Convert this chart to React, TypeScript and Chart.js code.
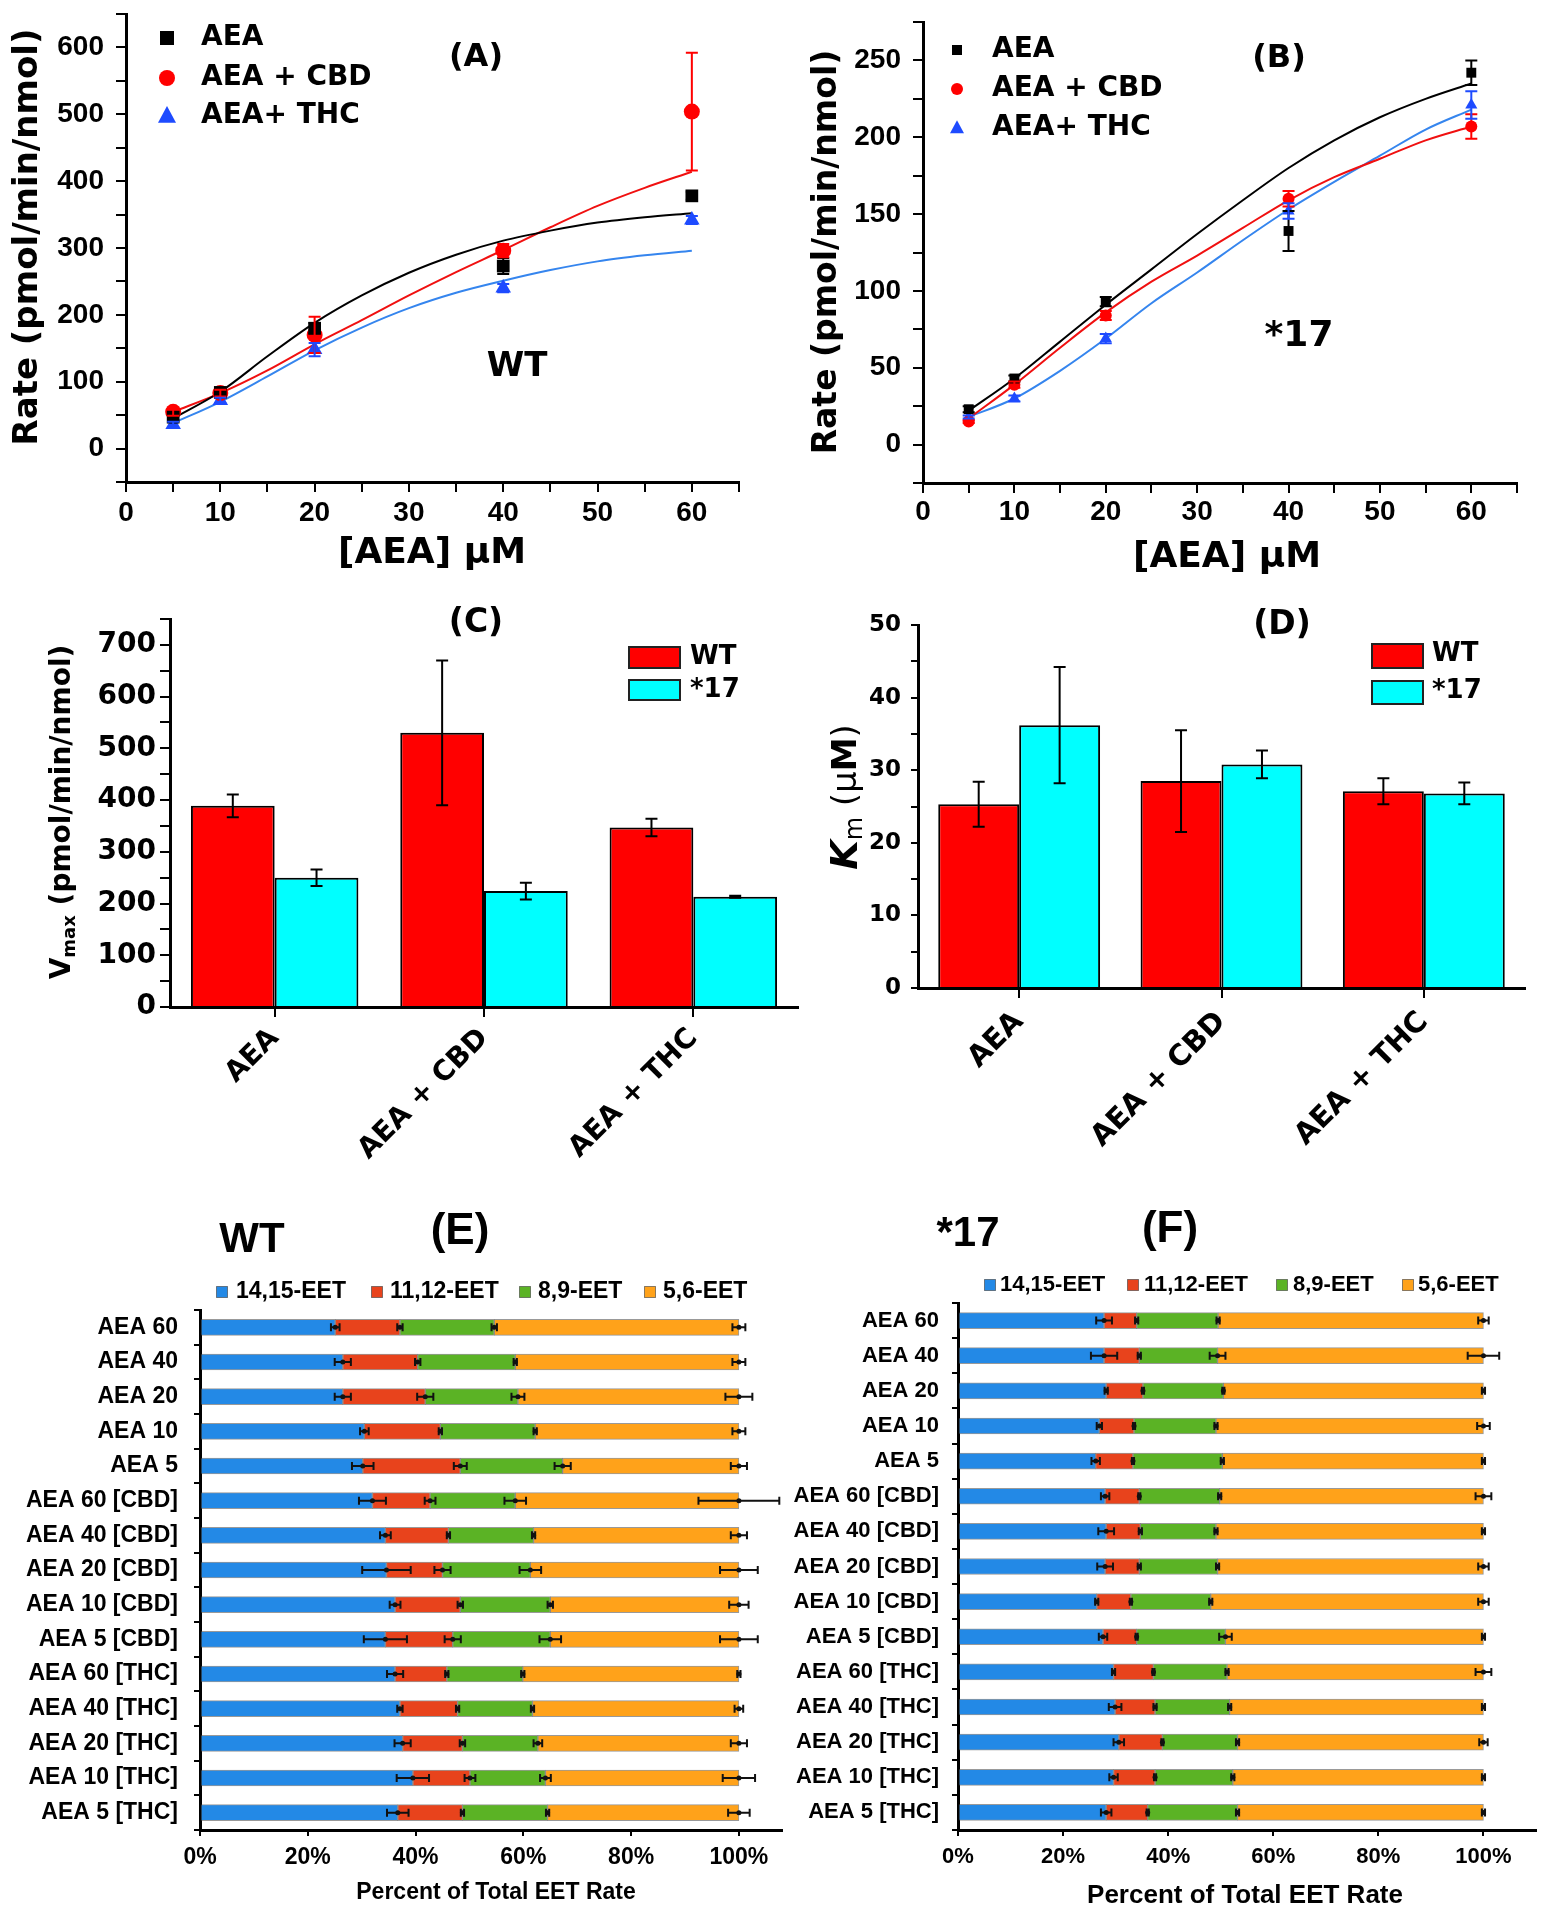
import React, { useEffect, useRef } from 'react';
import { Chart, registerables } from 'chart.js';
Chart.register(...registerables);

const NARROW = '"Liberation Sans", Arial, sans-serif';
const WIDE = '"DejaVu Sans", sans-serif';

// ---------- Panels A/B : rate vs [AEA] ----------
const concentrations = [5, 10, 20, 40, 60];
const fitConc = [5, 10, 15, 20, 25, 30, 35, 40, 45, 50, 55, 60];

// WT (A)
const wtAEA = [47, 84, 180, 273, 378];
const wtAEAErr = [5, 6, 8, 12, 6];
const wtCBD = [55, 83, 170, 296, 504];
const wtCBDErr = [6, 5, 27, 10, 88];
const wtTHC = [36, 72, 148, 240, 342];
const wtTHCErr = [4, 4, 10, 6, 6];
const wtFitAEA = [45, 85, 138, 188, 229, 263, 290, 311, 326, 338, 346, 352];
const wtFitCBD = [55, 83, 117, 156, 192, 229, 264, 297, 331, 363, 390, 414];
const wtFitTHC = [38, 70, 108, 147, 181, 210, 233, 251, 267, 280, 289, 296];

// *17 (B)
const s17AEA = [23, 43, 93, 139, 242];
const s17AEAErr = [2, 2, 3, 13, 8];
const s17CBD = [15, 39, 84, 160, 207];
const s17CBDErr = [1, 2, 3, 5, 8];
const s17THC = [18, 30, 69, 152, 221];
const s17THCErr = [1, 2, 3, 5, 9];
const s17FitAEA = [22, 43, 67, 91, 114, 137, 159, 180, 198, 213, 225, 235];
const s17FitCBD = [17, 39, 63, 86, 106, 123, 141, 159, 174, 186, 198, 207];
const s17FitTHC = [18, 30, 48, 69, 92, 112, 133, 153, 171, 188, 205, 218];

// ---------- Panels C/D : Vmax and Km ----------
const treatments = ['AEA', 'AEA + CBD', 'AEA + THC'];
const vmaxWT = [389, 530, 347];
const vmaxWTErr = [22, 140, 17];
const vmax17 = [250, 224, 213];
const vmax17Err = [16, 16, 2];
const kmWT = [25.3, 28.5, 27.1];
const kmWTErr = [3.1, 7.0, 1.8];
const km17 = [36.2, 30.8, 26.8];
const km17Err = [8.0, 1.9, 1.5];

// ---------- Panels E/F : EET distribution ----------
const eetRows = ['AEA 60', 'AEA 40', 'AEA 20', 'AEA 10', 'AEA 5', 'AEA 60 [CBD]', 'AEA 40 [CBD]', 'AEA 20 [CBD]', 'AEA 10 [CBD]', 'AEA 5 [CBD]', 'AEA 60 [THC]', 'AEA 40 [THC]', 'AEA 20 [THC]', 'AEA 10 [THC]', 'AEA 5 [THC]'];
const eetNames = ['14,15-EET', '11,12-EET', '8,9-EET', '5,6-EET'];
const eetColors = ['#2389E6', '#E8431C', '#5BB325', '#FFA21A'];

const wt1415 = [25.1, 26.5, 26.5, 30.5, 30.2, 32.0, 34.4, 34.6, 36.2, 34.4, 36.2, 37.1, 37.6, 39.5, 36.7];
const wt1112 = [12.0, 13.9, 15.3, 14.1, 18.1, 10.7, 11.7, 10.4, 12.1, 12.5, 9.6, 10.7, 11.1, 10.6, 12.0];
const wt89 = [17.5, 18.1, 17.2, 17.6, 19.0, 15.8, 15.8, 16.3, 16.7, 18.1, 14.1, 13.9, 14.0, 14.0, 15.8];
const wt56 = [45.4, 41.5, 41.0, 37.8, 32.7, 41.5, 38.1, 38.7, 35.0, 35.0, 40.1, 38.3, 37.3, 35.9, 35.5];
const wt1415Err = [0.8, 1.5, 1.5, 0.8, 2.0, 2.5, 1.0, 4.5, 1.0, 4.0, 1.5, 0.5, 1.5, 3.0, 2.0];
const wt1112Err = [0.5, 0.5, 1.5, 0.3, 1.2, 1.0, 0.3, 1.5, 0.5, 1.5, 0.3, 0.3, 0.5, 1.0, 0.3];
const wt89Err = [0.5, 0.3, 1.2, 0.3, 1.5, 2.0, 0.3, 2.0, 0.5, 2.0, 0.3, 0.3, 0.8, 1.0, 0.3];
const wt56Err = [1.2, 1.2, 2.5, 1.2, 1.5, 7.5, 1.5, 3.5, 1.8, 3.5, 0.3, 0.8, 1.5, 3.0, 2.0];

const s17_1415 = [27.8, 27.8, 28.2, 26.9, 26.2, 28.0, 28.2, 28.0, 26.4, 27.6, 29.6, 29.9, 30.6, 29.6, 28.2];
const s17_1112 = [6.2, 6.7, 7.0, 6.6, 7.1, 6.5, 6.5, 6.5, 6.5, 6.4, 7.6, 7.6, 8.3, 7.9, 7.9];
const s17_89 = [15.5, 14.9, 15.3, 15.6, 17.0, 15.3, 14.4, 14.9, 15.2, 16.9, 14.0, 14.2, 14.3, 14.8, 17.1];
const s17_56 = [50.5, 50.6, 49.5, 50.9, 49.7, 50.2, 50.9, 50.6, 51.9, 49.1, 48.8, 48.3, 46.8, 47.7, 46.8];
const s17_1415Err = [1.5, 2.5, 0.3, 0.5, 0.8, 0.8, 1.5, 1.5, 0.3, 0.8, 0.3, 1.2, 1.0, 0.8, 1.0];
const s17_1112Err = [0.3, 0.3, 0.2, 0.2, 0.2, 0.2, 0.3, 0.3, 0.2, 0.2, 0.2, 0.3, 0.2, 0.2, 0.2];
const s17_89Err = [0.3, 1.5, 0.2, 0.3, 0.3, 0.3, 0.3, 0.3, 0.3, 1.2, 0.3, 0.3, 0.3, 0.3, 0.3];
const s17_56Err = [1.0, 3.0, 0.3, 1.2, 0.3, 1.5, 0.3, 1.0, 1.0, 0.3, 1.5, 0.3, 0.8, 0.3, 0.3];

// ---------- helpers ----------
type Part = { t: string; font: string; dy?: number };
type Item =
  | { kind: 'text'; x: number; y: number; parts: Part[]; align?: 'left' | 'center' | 'right'; rot?: number; color?: string }
  | { kind: 'shape'; shape: 'rect' | 'circle' | 'triangle'; x: number; y: number; r: number; color: string }
  | { kind: 'box'; x: number; y: number; w: number; h: number; fill: string; stroke: string; lw: number };

const T = (x: number, y: number, t: string, font: string, align: 'left' | 'center' | 'right' = 'center', rot = 0): Item => ({ kind: 'text', x, y, parts: [{ t, font }], align, rot });

function overlay(id: string, items: Item[]) {
  return {
    id,
    afterDraw(chart: any) {
      const ctx: CanvasRenderingContext2D = chart.ctx;
      ctx.save();
      for (const it of items) {
        if (it.kind === 'text') {
          ctx.save();
          ctx.translate(it.x, it.y);
          ctx.rotate(it.rot || 0);
          ctx.fillStyle = it.color || '#000';
          ctx.textBaseline = 'middle';
          ctx.textAlign = 'left';
          let total = 0;
          for (const p of it.parts) { ctx.font = p.font; total += ctx.measureText(p.t).width; }
          let cx = it.align === 'left' ? 0 : it.align === 'right' ? -total : -total / 2;
          for (const p of it.parts) {
            ctx.font = p.font;
            ctx.fillText(p.t, cx, p.dy || 0);
            cx += ctx.measureText(p.t).width;
          }
          ctx.restore();
        } else if (it.kind === 'shape') {
          ctx.fillStyle = it.color;
          ctx.beginPath();
          if (it.shape === 'rect') ctx.rect(it.x - it.r, it.y - it.r, it.r * 2, it.r * 2);
          else if (it.shape === 'circle') ctx.arc(it.x, it.y, it.r, 0, Math.PI * 2);
          else { ctx.moveTo(it.x, it.y - it.r * 1.1); ctx.lineTo(it.x + it.r, it.y + it.r * 0.75); ctx.lineTo(it.x - it.r, it.y + it.r * 0.75); ctx.closePath(); }
          ctx.fill();
        } else {
          ctx.fillStyle = it.fill;
          ctx.fillRect(it.x, it.y, it.w, it.h);
          ctx.strokeStyle = it.stroke;
          ctx.lineWidth = it.lw;
          ctx.strokeRect(it.x, it.y, it.w, it.h);
        }
      }
      ctx.restore();
    },
  };
}

function pointErrors(id: string, sets: { ds: number; err: number[]; color: string }[], cap: number, lw: number) {
  return {
    id,
    afterDatasetsDraw(chart: any) {
      const ctx: CanvasRenderingContext2D = chart.ctx;
      const ys = chart.scales.y;
      ctx.save();
      for (const s of sets) {
        const meta = chart.getDatasetMeta(s.ds);
        const data = chart.data.datasets[s.ds].data as any[];
        ctx.strokeStyle = s.color;
        ctx.lineWidth = lw;
        meta.data.forEach((el: any, i: number) => {
          const v = typeof data[i] === 'number' ? data[i] : data[i].y;
          const e = s.err[i];
          const x = el.x;
          const y1 = ys.getPixelForValue(v + e);
          const y2 = ys.getPixelForValue(v - e);
          ctx.beginPath();
          ctx.moveTo(x, y1); ctx.lineTo(x, y2);
          ctx.moveTo(x - cap, y1); ctx.lineTo(x + cap, y1);
          ctx.moveTo(x - cap, y2); ctx.lineTo(x + cap, y2);
          ctx.stroke();
        });
      }
      ctx.restore();
    },
  };
}

function stackErrors(id: string, errs: number[][]) {
  return {
    id,
    afterDatasetsDraw(chart: any) {
      const ctx: CanvasRenderingContext2D = chart.ctx;
      const xs = chart.scales.x;
      ctx.save();
      ctx.strokeStyle = '#111';
      ctx.lineWidth = 2;
      const n = chart.data.labels.length;
      for (let i = 0; i < n; i++) {
        let cum = 0;
        for (let d = 0; d < errs.length; d++) {
          cum += chart.data.datasets[d].data[i] as number;
          const y = chart.getDatasetMeta(d).data[i].y;
          const e = errs[d][i];
          const x1 = xs.getPixelForValue(cum - e);
          const x2 = xs.getPixelForValue(cum + e);
          ctx.beginPath();
          ctx.moveTo(x1, y); ctx.lineTo(x2, y);
          ctx.moveTo(x1, y - 4); ctx.lineTo(x1, y + 4);
          ctx.moveTo(x2, y - 4); ctx.lineTo(x2, y + 4);
          ctx.stroke();
          ctx.beginPath();
          ctx.fillStyle = '#111';
          ctx.arc(xs.getPixelForValue(cum), y, 2.5, 0, Math.PI * 2);
          ctx.fill();
        }
      }
      ctx.restore();
    },
  };
}

const fixY = (w: number) => (s: any) => { s.width = w; s.paddingTop = 0; s.paddingBottom = 0; s.paddingLeft = 0; s.paddingRight = 0; };
const fixX = (h: number) => (s: any) => { s.height = h; s.paddingTop = 0; s.paddingBottom = 0; s.paddingLeft = 0; s.paddingRight = 0; };

const axisBase = (fontFamily: string, size: number, tickLen: number, pad: number) => ({
  ticks: { color: '#000', font: { family: fontFamily, size, weight: 'bold' as const }, padding: pad, autoSkip: false, maxRotation: 0, minRotation: 0 },
  grid: { drawOnChartArea: false, drawTicks: true, tickLength: tickLen, color: '#000', lineWidth: 2 },
  border: { display: true, color: '#000', width: 3 },
});

function ChartBox({ left, top, width, height, config }: { left: number; top: number; width: number; height: number; config: any }) {
  const ref = useRef<HTMLCanvasElement>(null);
  useEffect(() => {
    const c = new Chart(ref.current as HTMLCanvasElement, config);
    return () => c.destroy();
  }, []);
  return <canvas ref={ref} width={width} height={height} style={{ position: 'absolute', left, top, width, height }} />;
}

// ---------- A/B configs ----------
function kineticsConfig(opts: {
  pts: number[][]; errs: number[][]; fits: number[][]; ymin: number; ymax: number; ystep: number; ylab: number;
  yW: number; xH: number; padTop: number; padRight: number; radii: number[]; texts: Item[]; xpad: number;
}) {
  const markerColors = ['#000000', '#FF0000', '#1E4BFF'];
  const curveColors = ['#000000', '#F01010', '#3585EE'];
  const styles = ['rect', 'circle', 'triangle'];
  const names = ['AEA', 'AEA + CBD', 'AEA+ THC'];
  const datasets: any[] = [];
  opts.fits.forEach((f, k) => datasets.push({
    type: 'line', label: names[k] + ' fit', data: fitConc.map((x, i) => ({ x, y: f[i] })),
    borderColor: curveColors[k], borderWidth: 2, pointRadius: 0, tension: 0.4, cubicInterpolationMode: 'monotone', fill: false, order: 5,
  }));
  opts.pts.forEach((p, k) => datasets.push({
    type: 'scatter', label: names[k], data: concentrations.map((x, i) => ({ x, y: p[i] })),
    backgroundColor: markerColors[k], borderColor: markerColors[k], pointStyle: styles[k], pointRadius: opts.radii[k], borderWidth: 0, order: 1,
  }));
  const xb = axisBase(NARROW, 28, 10, opts.xpad);
  const yb = axisBase(NARROW, 28, 10, 12);
  return {
    type: 'scatter',
    data: { datasets },
    options: {
      responsive: false, animation: false, devicePixelRatio: 1,
      layout: { padding: { top: opts.padTop, right: opts.padRight, left: 0, bottom: 0 } },
      plugins: { legend: { display: false }, tooltip: { enabled: false } },
      scales: {
        x: { type: 'linear', min: 0, max: 65, ...xb, ticks: { ...xb.ticks, stepSize: 5, callback: (v: number) => (v % 10 === 0 && v <= 60 ? String(v) : '') }, afterFit: fixX(opts.xH) },
        y: { type: 'linear', min: opts.ymin, max: opts.ymax, ...yb, ticks: { ...yb.ticks, stepSize: opts.ystep / 2, callback: (v: number) => (v % opts.ystep === 0 && v >= 0 && v <= opts.ylab ? String(v) : '') }, afterFit: fixY(opts.yW) },
      },
    },
    plugins: [
      pointErrors('errs', [
        { ds: 3, err: opts.errs[0], color: '#000' },
        { ds: 4, err: opts.errs[1], color: '#FF0000' },
        { ds: 5, err: opts.errs[2], color: '#1E4BFF' },
      ], 6, 2),
      overlay('texts', opts.texts),
    ],
  };
}

const fw = (s: number) => `bold ${s}px "DejaVu Sans"`;
const fn = (s: number) => `bold ${s}px "Liberation Sans"`;

const legendABItems = (mx: number, tx: number, ys: number[], r: number[], size: number): Item[] => [
  { kind: 'shape', shape: 'rect', x: mx, y: ys[0], r: r[0], color: '#000' },
  T(tx, ys[0], 'AEA', fw(size), 'left'),
  { kind: 'shape', shape: 'circle', x: mx, y: ys[1], r: r[1], color: '#FF0000' },
  T(tx, ys[1], 'AEA + CBD', fw(size), 'left'),
  { kind: 'shape', shape: 'triangle', x: mx, y: ys[2], r: r[2], color: '#1E4BFF' },
  T(tx, ys[2], 'AEA+ THC', fw(size), 'left'),
];

const configA = kineticsConfig({
  pts: [wtAEA, wtCBD, wtTHC], errs: [wtAEAErr, wtCBDErr, wtTHCErr], fits: [wtFitAEA, wtFitCBD, wtFitTHC],
  ymin: -50, ymax: 650, ystep: 100, ylab: 600, yW: 126, xH: 98, padTop: 14, padRight: 31, radii: [9, 8, 9], xpad: 4,
  texts: [
    ...legendABItems(167, 201, [38, 78, 116], [7, 8, 9], 28),
    T(476, 58, '(A)', fw(32)),
    T(517, 367, 'WT', fw(34)),
    T(28, 237, 'Rate (pmol/min/nmol)', fw(34), 'center', -Math.PI / 2),
    T(432, 554, '[AEA] \u03bcM', fw(36)),
  ],
});

const configB = kineticsConfig({
  pts: [s17AEA, s17CBD, s17THC], errs: [s17AEAErr, s17CBDErr, s17THCErr], fits: [s17FitAEA, s17FitCBD, s17FitTHC],
  ymin: -25, ymax: 275, ystep: 50, ylab: 250, yW: 140, xH: 97, padTop: 22, padRight: 29, radii: [7, 6, 7], xpad: 2,
  texts: [
    ...legendABItems(174, 209, [50, 89, 128], [5, 6, 7], 28),
    T(496, 59, '(B)', fw(32)),
    T(516, 337, '*17', fw(36)),
    T(44, 252, 'Rate (pmol/min/nmol)', fw(33), 'center', -Math.PI / 2),
    T(444, 558, '[AEA] \u03bcM', fw(36)),
  ],
});

// ---------- C/D configs ----------
function barConfig(opts: {
  wt: number[]; wtErr: number[]; m17: number[]; m17Err: number[]; max: number; step: number; labelStep: number; labelMax: number;
  yW: number; xH: number; padTop: number; padRight: number; texts: Item[]; ypad: number; yFont: number; yTick: number; xFont: number; xpad: number;
}) {
  const xb = axisBase(WIDE, opts.xFont, 10, opts.xpad);
  const yb = axisBase(WIDE, opts.yFont, opts.yTick, opts.ypad);
  return {
    type: 'bar',
    data: {
      labels: treatments,
      datasets: [
        { label: 'WT', data: opts.wt, backgroundColor: '#FF0000', borderColor: '#000', borderWidth: 2, categoryPercentage: 0.8, barPercentage: 1.0 },
        { label: '*17', data: opts.m17, backgroundColor: '#00FFFF', borderColor: '#000', borderWidth: 2, categoryPercentage: 0.8, barPercentage: 1.0 },
      ],
    },
    options: {
      responsive: false, animation: false, devicePixelRatio: 1,
      layout: { padding: { top: opts.padTop, right: opts.padRight, left: 0, bottom: 0 } },
      plugins: { legend: { display: false }, tooltip: { enabled: false } },
      scales: {
        x: { type: 'category', offset: true, ...xb, grid: { ...xb.grid, offset: false }, ticks: { ...xb.ticks, maxRotation: 45, minRotation: 45 }, afterFit: fixX(opts.xH) },
        y: { type: 'linear', min: 0, max: opts.max, ...yb, ticks: { ...yb.ticks, stepSize: opts.step, callback: (v: number) => (Math.abs(v % opts.labelStep) < 1e-9 && v <= opts.labelMax ? String(v) : '') }, afterFit: fixY(opts.yW) },
      },
    },
    plugins: [
      pointErrors('errs', [
        { ds: 0, err: opts.wtErr, color: '#000' },
        { ds: 1, err: opts.m17Err, color: '#000' },
      ], 6, 2),
      overlay('texts', opts.texts),
    ],
  };
}

const configC = barConfig({
  wt: vmaxWT, wtErr: vmaxWTErr, m17: vmax17, m17Err: vmax17Err, max: 750, step: 50, labelStep: 100, labelMax: 700,
  yW: 170, xH: 173, padTop: 29, padRight: 2, ypad: 4, yFont: 28, yTick: 10, xFont: 28, xpad: 5,
  texts: [
    T(476, 33, '(C)', fw(33)),
    { kind: 'box', x: 629, y: 57, w: 51, h: 21, fill: '#FF0000', stroke: '#222', lw: 2 },
    T(690, 67, 'WT', fw(26), 'left'),
    { kind: 'box', x: 629, y: 90, w: 51, h: 20, fill: '#00FFFF', stroke: '#222', lw: 2 },
    T(690, 100, '*17', fw(26), 'left'),
    { kind: 'text', x: 63, y: 222, rot: -Math.PI / 2, align: 'center', parts: [
      { t: 'V', font: fw(28) }, { t: 'max', font: fw(18), dy: 7 }, { t: ' (pmol/min/nmol)', font: fw(28) },
    ] },
  ],
});

const configD = barConfig({
  wt: kmWT, wtErr: kmWTErr, m17: km17, m17Err: km17Err, max: 50, step: 5, labelStep: 10, labelMax: 50,
  yW: 118, xH: 192, padTop: 35, padRight: 21, ypad: 10, yFont: 23, yTick: 7, xFont: 29, xpad: 7,
  texts: [
    T(482, 35, '(D)', fw(33)),
    { kind: 'box', x: 572, y: 54, w: 51, h: 24, fill: '#FF0000', stroke: '#222', lw: 2 },
    T(632, 64, 'WT', fw(26), 'left'),
    { kind: 'box', x: 572, y: 91, w: 51, h: 23, fill: '#00FFFF', stroke: '#222', lw: 2 },
    T(632, 101, '*17', fw(26), 'left'),
    { kind: 'text', x: 47, y: 207, rot: -Math.PI / 2, align: 'center', parts: [
      { t: 'K', font: `italic bold 38px "DejaVu Sans"` }, { t: 'm', font: `24px "DejaVu Sans"`, dy: 9 },
      { t: ' (\u03bc', font: `34px "DejaVu Sans"` }, { t: 'M', font: fw(34) }, { t: ')', font: `34px "DejaVu Sans"` },
    ] },
  ],
});

// ---------- E/F configs ----------
function eetConfig(opts: {
  series: number[][]; errs: number[][]; xmax: number; yW: number; xH: number; padTop: number; padRight: number;
  catFont: number; tickFont: number; catPad: number; texts: Item[];
}) {
  const xb = axisBase(NARROW, opts.tickFont, 6, 8);
  const yb = axisBase(NARROW, opts.catFont, 6, opts.catPad);
  return {
    type: 'bar',
    data: {
      labels: eetRows,
      datasets: opts.series.map((s, k) => ({
        label: eetNames[k], data: s, backgroundColor: eetColors[k], borderColor: 'rgba(70,70,70,0.55)', borderWidth: 1,
        borderSkipped: false, barThickness: 16,
      })),
    },
    options: {
      indexAxis: 'y',
      responsive: false, animation: false, devicePixelRatio: 1,
      layout: { padding: { top: opts.padTop, right: opts.padRight, left: 0, bottom: 0 } },
      plugins: { legend: { display: false }, tooltip: { enabled: false } },
      scales: {
        x: { type: 'linear', stacked: true, min: 0, max: opts.xmax, ...xb, ticks: { ...xb.ticks, stepSize: 20, includeBounds: false, callback: (v: number) => (v % 20 === 0 && v <= 100 ? v + '%' : '') }, afterFit: fixX(opts.xH) },
        y: { type: 'category', stacked: true, ...yb, grid: { ...yb.grid, offset: true }, afterFit: fixY(opts.yW) },
      },
    },
    plugins: [stackErrors('errs', opts.errs), overlay('texts', opts.texts)],
  };
}

const eetLegend = (y: number, sq: number[], tx: number[], size: number): Item[] => {
  const out: Item[] = [];
  eetNames.forEach((n, k) => {
    out.push({ kind: 'box', x: sq[k] - 5.5, y: y - 5.5, w: 11, h: 11, fill: eetColors[k], stroke: 'rgba(60,60,60,0.6)', lw: 1 });
    out.push(T(tx[k], y, n, fn(size), 'left'));
  });
  return out;
};

const configE = eetConfig({
  series: [wt1415, wt1112, wt89, wt56], errs: [wt1415Err, wt1112Err, wt89Err, wt56Err], xmax: 108,
  yW: 200, xH: 90, padTop: 120, padRight: 18, catFont: 23, tickFont: 23, catPad: 16,
  texts: [
    ...eetLegend(102, [222, 377, 525, 650], [236, 390, 538, 663], 23),
    T(252, 50, 'WT', fn(42)),
    T(460, 42, '(E)', fn(44)),
    T(496, 703, 'Percent of Total EET Rate', fn(23)),
  ],
});

const configF = eetConfig({
  series: [s17_1415, s17_1112, s17_89, s17_56], errs: [s17_1415Err, s17_1112Err, s17_89Err, s17_56Err], xmax: 110,
  yW: 175, xH: 90, padTop: 113, padRight: 10, catFont: 22, tickFont: 22, catPad: 13,
  texts: [
    ...eetLegend(95, [207, 350, 499, 625], [217, 361, 510, 635], 22),
    T(185, 44, '*17', fn(42)),
    T(387, 40, '(F)', fn(44)),
    T(462, 706, 'Percent of Total EET Rate', fn(26)),
  ],
});

export default function App() {
  return (
    <div style={{ position: 'absolute', left: 0, top: 0, width: 1546, height: 1920, background: '#fff', overflow: 'hidden' }}>
      <ChartBox left={0} top={0} width={770} height={580} config={configA} />
      <ChartBox left={783} top={0} width={763} height={580} config={configB} />
      <ChartBox left={0} top={590} width={800} height={590} config={configC} />
      <ChartBox left={800} top={590} width={746} height={590} config={configD} />
      <ChartBox left={0} top={1190} width={800} height={730} config={configE} />
      <ChartBox left={783} top={1190} width={763} height={730} config={configF} />
    </div>
  );
}
